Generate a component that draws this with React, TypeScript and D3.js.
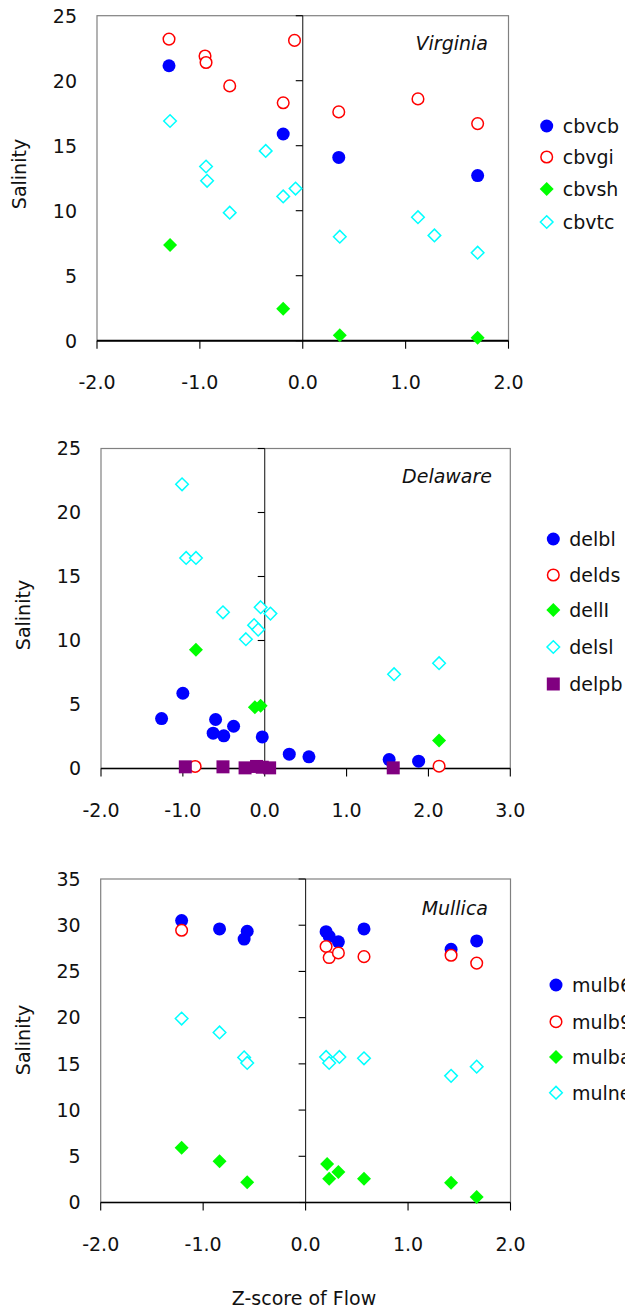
import React from 'react';
import * as d3 from 'd3';

// Virginia
const vaNames = ['cbvcb', 'cbvgi', 'cbvsh', 'cbvtc'];
const cbvcb: [number, number][] = [[-1.30, 21.15], [-0.19, 15.9], [0.35, 14.1], [1.70, 12.7]];
const cbvgi: [number, number][] = [[-1.30, 23.2], [-0.95, 21.9], [-0.94, 21.4], [-0.71, 19.6], [-0.19, 18.3], [-0.08, 23.1], [0.35, 17.6], [1.12, 18.6], [1.70, 16.7]];
const cbvsh: [number, number][] = [[-1.29, 7.36], [-0.19, 2.46], [0.36, 0.41], [1.70, 0.23]];
const cbvtc: [number, number][] = [[-1.29, 16.9], [-0.94, 13.4], [-0.93, 12.3], [-0.71, 9.85], [-0.36, 14.6], [-0.19, 11.1], [-0.07, 11.7], [0.36, 8.0], [1.12, 9.5], [1.28, 8.1], [1.70, 6.77]];

// Delaware
const deNames = ['delbl', 'delds', 'dellI', 'delsl', 'delpb'];
const delbl: [number, number][] = [[-1.0, 5.88], [-1.26, 3.9], [-0.6, 3.83], [-0.38, 3.3], [-0.63, 2.76], [-0.5, 2.55], [-0.03, 2.47], [0.3, 1.12], [0.54, 0.91], [1.52, 0.7], [1.88, 0.57]];
const delds: [number, number][] = [[-0.85, 0.16], [2.13, 0.18]];
const dellI: [number, number][] = [[-0.84, 9.27], [-0.12, 4.79], [-0.05, 4.9], [2.13, 2.19]];
const delsl: [number, number][] = [[-1.01, 22.2], [-0.96, 16.45], [-0.84, 16.45], [-0.51, 12.2], [-0.05, 12.6], [0.07, 12.1], [-0.13, 11.2], [-0.08, 10.85], [-0.23, 10.1], [1.58, 7.37], [2.13, 8.23]];
const delpb: [number, number][] = [[-0.97, 0.13], [-0.51, 0.13], [-0.24, 0.05], [-0.1, 0.16], [-0.03, 0.1], [0.06, 0.05], [1.57, 0.05]];

// Mullica
const muNames = ['mulb6', 'mulb9', 'mulba', 'mulne'];
const mulb6: [number, number][] = [[-1.21, 30.5], [-0.84, 29.6], [-0.57, 29.35], [-0.6, 28.5], [0.2, 29.3], [0.23, 28.8], [0.32, 28.2], [0.57, 29.6], [1.42, 27.4], [1.67, 28.3]];
const mulb9: [number, number][] = [[-1.21, 29.45], [0.2, 27.7], [0.23, 26.5], [0.32, 27.0], [0.57, 26.6], [1.42, 26.75], [1.67, 25.9]];
const mulba: [number, number][] = [[-1.21, 5.93], [-0.84, 4.46], [-0.57, 2.19], [0.21, 4.17], [0.23, 2.58], [0.32, 3.3], [0.57, 2.58], [1.42, 2.14], [1.67, 0.6]];
const mulne: [number, number][] = [[-1.21, 19.9], [-0.84, 18.4], [-0.6, 15.7], [-0.57, 15.1], [0.2, 15.75], [0.23, 15.1], [0.33, 15.75], [0.57, 15.6], [1.42, 13.7], [1.67, 14.7]];

const xTicksA = [-2, -1, 0, 1, 2];
const xTicksB = [-2, -1, 0, 1, 2, 3];
const yTicks25 = [0, 5, 10, 15, 20, 25];
const yTicks35 = [0, 5, 10, 15, 20, 25, 30, 35];

const FONT = '"DejaVu Sans", Verdana, sans-serif';

// marker styles by series position
const styles = [
  { shape: 'circle', fill: '#0000ff', stroke: 'none' },
  { shape: 'circle', fill: '#ffffff', stroke: '#ff0000' },
  { shape: 'diamond', fill: '#00ff00', stroke: 'none' },
  { shape: 'diamond', fill: '#ffffff', stroke: '#00ffff' },
  { shape: 'square', fill: '#800080', stroke: 'none' },
];

const markerPath = (shape: string, open: boolean) => {
  if (shape === 'circle') {
    const r = open ? 5.8 : 6.5;
    return `M${-r},0A${r},${r} 0 1,0 ${r},0A${r},${r} 0 1,0 ${-r},0Z`;
  }
  if (shape === 'diamond') {
    const r = open ? 6.3 : 7;
    return `M0,${-r}L${r},0L0,${r}L${-r},0Z`;
  }
  const s = 6.5;
  return `M${-s},${-s}H${s}V${s}H${-s}Z`;
};

const Marker = ({ i, x, y }: { i: number; x: number; y: number }) => {
  const st = styles[i];
  const open = st.stroke !== 'none';
  return (
    <path
      d={markerPath(st.shape, open)}
      transform={`translate(${x},${y})`}
      fill={st.fill}
      stroke={st.stroke}
      strokeWidth={open ? 1.5 : 0}
    />
  );
};

const panels = [
  {
    title: 'Virginia', names: vaNames, series: [cbvcb, cbvgi, cbvsh, cbvtc],
    left: 97, right: 508.5, top: 15.7, bottom: 340.7, xDom: [-2, 2], yDom: [0, 25],
    xTicks: xTicksA, yTicks: yTicks25, axisW: 2,
    legX: 546.7, legY: [126, 157, 189, 222], titleX: 488, titleY: 50, salY: 174,
  },
  {
    title: 'Delaware', names: deNames, series: [delbl, delds, dellI, delsl, delpb],
    left: 101, right: 510.3, top: 448.5, bottom: 768.5, xDom: [-2, 3], yDom: [0, 25],
    xTicks: xTicksB, yTicks: yTicks25, axisW: 1.3,
    legX: 553.3, legY: [539, 575, 610, 647, 684], titleX: 492, titleY: 483, salY: 615,
  },
  {
    title: 'Mullica', names: muNames, series: [mulb6, mulb9, mulba, mulne],
    left: 100.7, right: 510.5, top: 879, bottom: 1202.5, xDom: [-2, 2], yDom: [0, 35],
    xTicks: xTicksA, yTicks: yTicks35, axisW: 1.3,
    legX: 556, legY: [985, 1021.7, 1057, 1092.7], titleX: 488, titleY: 915, salY: 1040,
  },
];

const Panel = ({ p }: { p: typeof panels[number] }) => {
  const x = d3.scaleLinear().domain(p.xDom).range([p.left, p.right]);
  const y = d3.scaleLinear().domain(p.yDom).range([p.bottom, p.top]);
  const x0 = x(0);
  const y0 = y(0);
  return (
    <g>
      <rect x={p.left} y={p.top} width={p.right - p.left} height={p.bottom - p.top}
        fill="white" stroke="#808080" strokeWidth={1.2} />
      {/* y axis on x = 0 */}
      <line x1={x0} x2={x0} y1={p.top} y2={p.bottom} stroke="#222" strokeWidth={1.1} />
      {p.yTicks.map(t => (
        <line key={'yt' + t} x1={x0 - 7} x2={x0} y1={y(t)} y2={y(t)} stroke="#000" strokeWidth={1.1} />
      ))}
      {p.yTicks.map(t => (
        <text key={'yl' + t} x={p.left - 20} y={y(t)} dy="0.36em" textAnchor="end"
          fontSize={19} fontFamily={FONT} fill="#111">{t}</text>
      ))}
      {/* x axis on y = 0 */}
      <line x1={p.left} x2={p.right} y1={y0} y2={y0} stroke="#000" strokeWidth={p.axisW} />
      {p.xTicks.map(t => (
        <line key={'xt' + t} x1={x(t)} x2={x(t)} y1={y0} y2={y0 + 8} stroke="#000" strokeWidth={1.1} />
      ))}
      {p.xTicks.map(t => (
        <text key={'xl' + t} x={x(t)} y={y0 + 48} textAnchor="middle"
          fontSize={19} fontFamily={FONT} fill="#111">{t.toFixed(1)}</text>
      ))}
      <text x={p.titleX} y={p.titleY} textAnchor="end" fontSize={19} fontStyle="italic"
        fontFamily={FONT} fill="#111">{p.title}</text>
      <text transform={`translate(${p.left - 78},${p.salY}) rotate(-90)`} textAnchor="middle"
        dy="0.36em" fontSize={19} fontFamily={FONT} fill="#111">Salinity</text>
      {p.series.map((s, i) => (
        <g key={p.names[i]}>
          {s.map((d, j) => <Marker key={j} i={i} x={x(d[0])} y={y(d[1])} />)}
        </g>
      ))}
      {p.names.map((n, i) => (
        <g key={'lg' + n}>
          <Marker i={i} x={p.legX} y={p.legY[i]} />
          <text x={p.legX + 16} y={p.legY[i]} dy="0.36em" fontSize={19} fontFamily={FONT}
            fill="#111">{n}</text>
        </g>
      ))}
    </g>
  );
};

export default function App() {
  return (
    <svg width={625} height={1308} style={{ position: 'absolute', left: 0, top: 0, background: 'white' }}>
      {panels.map(p => <Panel key={p.title} p={p} />)}
      <text x={304} y={1305} textAnchor="middle" fontSize={19} fontFamily={FONT} fill="#111">
        Z-score of Flow
      </text>
    </svg>
  );
}
